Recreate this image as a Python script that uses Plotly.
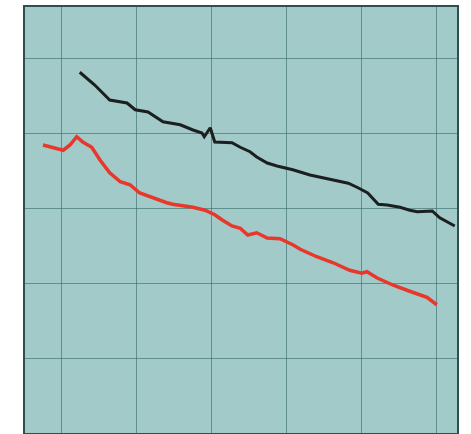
import plotly.graph_objects as go

black_x = [1.25, 1.45, 1.65, 1.88, 1.99, 2.16, 2.36, 2.59, 2.76, 2.88, 2.91, 2.99, 3.05, 3.21, 3.28,
           3.39, 3.52, 3.61, 3.75, 3.88, 4.09, 4.32, 4.63, 4.83, 4.96, 5.09, 5.23, 5.35, 5.52, 5.65,
           5.75, 5.95, 6.05, 6.25]
black_y = [4.81, 4.64, 4.44, 4.40, 4.31, 4.28, 4.15, 4.11, 4.04, 4.00, 3.95, 4.07, 3.88, 3.87, 3.87,
           3.81, 3.75, 3.68, 3.60, 3.56, 3.51, 3.44, 3.37, 3.33, 3.27, 3.20, 3.05, 3.04, 3.01, 2.97,
           2.95, 2.96, 2.87, 2.76]

red_x = [0.76, 1.03, 1.12, 1.21, 1.29, 1.41, 1.52, 1.65, 1.79, 1.92, 2.05, 2.23, 2.41, 2.49, 2.76,
         2.92, 3.05, 3.15, 3.28, 3.39, 3.49, 3.61, 3.75, 3.92, 4.09, 4.19, 4.41, 4.63, 4.85, 5.01,
         5.08, 5.21, 5.43, 5.65, 5.88, 6.01]
red_y = [3.84, 3.77, 3.84, 3.95, 3.88, 3.81, 3.64, 3.47, 3.35, 3.31, 3.20, 3.13, 3.07, 3.05, 3.01,
         2.97, 2.91, 2.84, 2.76, 2.73, 2.64, 2.67, 2.60, 2.59, 2.51, 2.45, 2.35, 2.27, 2.17, 2.13,
         2.15, 2.07, 1.97, 1.89, 1.81, 1.71]

fig = go.Figure()
fig.add_trace(go.Scatter(x=black_x, y=black_y, mode="lines",
                         line=dict(color="#1c1f1f", width=3), showlegend=False))
fig.add_trace(go.Scatter(x=red_x, y=red_y, mode="lines",
                         line=dict(color="#e8372b", width=3.5), showlegend=False))

axis_common = dict(showgrid=True, gridcolor="rgba(50,105,105,0.6)", gridwidth=1.2,
                   zeroline=False, showticklabels=False, ticks="",
                   showline=True, linecolor="#2f4f4f", linewidth=1.5, mirror=True, dtick=1)

fig.update_layout(
    width=471, height=434,
    margin=dict(l=25, r=14, t=7, b=1),
    paper_bgcolor="white",
    plot_bgcolor="#a2cac8",
    xaxis=dict(range=[0.52, 6.28], tick0=0, **axis_common),
    yaxis=dict(range=[0, 5.68], tick0=0, **axis_common),
)

fig.write_html("out.html", config={"displayModeBar": False},
               post_script="document.body.style.margin='0';document.body.style.overflow='hidden';")
